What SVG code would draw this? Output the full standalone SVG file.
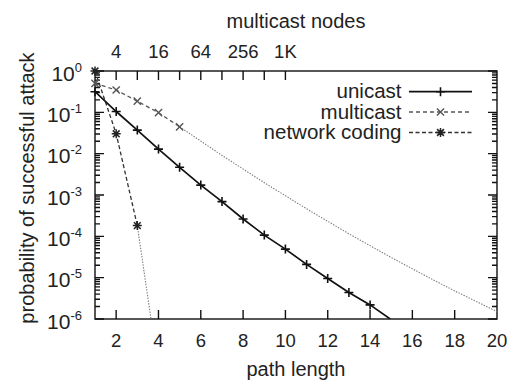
<svg xmlns="http://www.w3.org/2000/svg" xmlns:xlink="http://www.w3.org/1999/xlink" width="512" height="383" viewBox="0 0 512 383">
  <style>
    text { font-family: "Liberation Sans", Arial, sans-serif; fill: #222; }
    .lab { font-size: 20px; }
    .tick { font-size: 18.5px; text-anchor: middle; }
    .ytick { font-size: 21px; text-anchor: end; }
    .ytick tspan { font-size: 13px; }
    .leg { font-size: 20.5px; text-anchor: end; }
    .axis { fill: none; stroke: #111; stroke-width: 1.4; }
    .uni { fill: none; stroke: #111; stroke-width: 1.7; }
    .mc { fill: none; stroke: #555; stroke-width: 1.3; stroke-dasharray: 4 3; }
    .nc { fill: none; stroke: #333; stroke-width: 1.3; stroke-dasharray: 4 2.5; }
    .dot { fill: none; stroke: #7a7a7a; stroke-width: 1.1; stroke-dasharray: 1.4 1.4; }
    .mk-uni { stroke: #111; stroke-width: 1.6; fill: none; }
    .mk-mc { stroke: #555; stroke-width: 1.4; fill: none; }
    .mk-nc { stroke: #222; stroke-width: 1.5; fill: none; }
  </style>
  <defs>
    <path id="plus" d="M-4.5,0H4.5M0,-4.5V4.5"/>
    <path id="cross" d="M-3.6,-3.6L3.6,3.6M-3.6,3.6L3.6,-3.6"/>
    <path id="star" d="M-4.5,0H4.5M0,-4.5V4.5M-3.4,-3.4L3.4,3.4M-3.4,3.4L3.4,-3.4"/>
    <clipPath id="plotArea"><rect x="95" y="71" width="402" height="248"/></clipPath>
  </defs>
  <rect width="512" height="383" fill="#fff"/>

  <!-- axis frame and tick marks -->
  <g id="axes">
    <rect class="axis" x="95" y="71" width="402" height="248"/>
    <!-- left / right decade ticks -->
    <path class="axis" d="M95,71h9M95,112.33h9M95,153.67h9M95,195h9M95,236.33h9M95,277.67h9M95,319h9
      M497,71h-9M497,112.33h-9M497,153.67h-9M497,195h-9M497,236.33h-9M497,277.67h-9M497,319h-9"/>
    <!-- left / right minor ticks -->
    <path class="axis" stroke-width="1.1" d="
      M95,99.89h5M95,92.61h5M95,87.44h5M95,83.44h5M95,80.17h5M95,77.4h5M95,75h5M95,72.89h5
      M95,141.23h5M95,133.95h5M95,128.78h5M95,124.78h5M95,121.51h5M95,118.74h5M95,116.34h5M95,114.23h5
      M95,182.56h5M95,175.28h5M95,170.11h5M95,166.11h5M95,162.84h5M95,160.07h5M95,157.67h5M95,155.56h5
      M95,223.89h5M95,216.61h5M95,211.44h5M95,207.44h5M95,204.17h5M95,201.4h5M95,199h5M95,196.89h5
      M95,265.23h5M95,257.95h5M95,252.78h5M95,248.78h5M95,245.51h5M95,242.74h5M95,240.34h5M95,238.23h5
      M95,306.56h5M95,299.28h5M95,294.11h5M95,290.11h5M95,286.84h5M95,284.07h5M95,281.67h5M95,279.56h5
      M497,99.89h-5M497,92.61h-5M497,87.44h-5M497,83.44h-5M497,80.17h-5M497,77.4h-5M497,75h-5M497,72.89h-5
      M497,141.23h-5M497,133.95h-5M497,128.78h-5M497,124.78h-5M497,121.51h-5M497,118.74h-5M497,116.34h-5M497,114.23h-5
      M497,182.56h-5M497,175.28h-5M497,170.11h-5M497,166.11h-5M497,162.84h-5M497,160.07h-5M497,157.67h-5M497,155.56h-5
      M497,223.89h-5M497,216.61h-5M497,211.44h-5M497,207.44h-5M497,204.17h-5M497,201.4h-5M497,199h-5M497,196.89h-5
      M497,265.23h-5M497,257.95h-5M497,252.78h-5M497,248.78h-5M497,245.51h-5M497,242.74h-5M497,240.34h-5M497,238.23h-5
      M497,306.56h-5M497,299.28h-5M497,294.11h-5M497,290.11h-5M497,286.84h-5M497,284.07h-5M497,281.67h-5M497,279.56h-5"/>
    <!-- bottom ticks (path length) -->
    <path class="axis" d="M116.16,319v-9M158.47,319v-9M200.79,319v-9M243.11,319v-9M285.42,319v-9M327.74,319v-9M370.05,319v-9M412.37,319v-9M454.68,319v-9"/>
    <!-- top ticks (multicast nodes) -->
    <path class="axis" d="M116.16,71v9M137.32,71v9M158.47,71v9M179.63,71v9M200.79,71v9M221.95,71v9M243.11,71v9M264.26,71v9M285.42,71v9"/>
  </g>

  <!-- tick labels -->
  <g id="ytick-labels">
    <text class="ytick" x="82" y="80.5">10<tspan dy="-9">0</tspan></text>
    <text class="ytick" x="82" y="121.8">10<tspan dy="-9">-1</tspan></text>
    <text class="ytick" x="82" y="163.2">10<tspan dy="-9">-2</tspan></text>
    <text class="ytick" x="82" y="204.5">10<tspan dy="-9">-3</tspan></text>
    <text class="ytick" x="82" y="245.8">10<tspan dy="-9">-4</tspan></text>
    <text class="ytick" x="82" y="287.2">10<tspan dy="-9">-5</tspan></text>
    <text class="ytick" x="82" y="328.5">10<tspan dy="-9">-6</tspan></text>
  </g>
  <g id="xtick-labels">
    <text class="tick" x="116.16" y="346.5">2</text>
    <text class="tick" x="158.47" y="346.5">4</text>
    <text class="tick" x="200.79" y="346.5">6</text>
    <text class="tick" x="243.11" y="346.5">8</text>
    <text class="tick" x="285.42" y="346.5">10</text>
    <text class="tick" x="327.74" y="346.5">12</text>
    <text class="tick" x="370.05" y="346.5">14</text>
    <text class="tick" x="412.37" y="346.5">16</text>
    <text class="tick" x="454.68" y="346.5">18</text>
    <text class="tick" x="497" y="346.5">20</text>
  </g>
  <g id="x2tick-labels">
    <text class="tick" x="116.16" y="58.3">4</text>
    <text class="tick" x="158.47" y="58.3">16</text>
    <text class="tick" x="200.79" y="58.3">64</text>
    <text class="tick" x="243.11" y="58.3">256</text>
    <text class="tick" x="285.42" y="58.3">1K</text>
  </g>

  <!-- axis titles -->
  <g id="titles">
    <text class="lab" x="296" y="28" text-anchor="middle">multicast nodes</text>
    <text class="lab" x="296" y="376" text-anchor="middle">path length</text>
    <text class="lab" transform="translate(34,188) rotate(-90)" text-anchor="middle" font-size="19.3px">probability of successful attack</text>
  </g>

  <!-- data curves -->
  <g id="connectors" clip-path="url(#plotArea)">
    <path class="dot" d="M179.6,126.8L222,155.4L264.3,182.7L306.6,208.8L348.9,233.8L391.2,257.5L433.5,280L454.7,290.9L497,311.6"/>
    <path class="dot" d="M137.3,225.6L151,319"/>
    <path class="mc" d="M95,83.4L116.2,90L137.3,101.2L158.5,112.7L179.6,126.8"/>
    <path class="nc" d="M95,71L116.2,133.8L137.3,225.6"/>
    <path class="uni" d="M95,91.7L116.2,111.5L137.3,130.1L158.5,149.1L179.6,167.3L200.8,185.1L222,201.6L243.1,219L264.3,235.1L285.4,249.1L306.6,264.4L327.7,278.5L348.9,292.5L370.1,304.9L390.2,319"/>
  </g>

  <g id="unicast-points" class="mk-uni">
    <use href="#plus" x="95" y="91.7"/>
    <use href="#plus" x="116.2" y="111.5"/>
    <use href="#plus" x="137.3" y="130.1"/>
    <use href="#plus" x="158.5" y="149.1"/>
    <use href="#plus" x="179.6" y="167.3"/>
    <use href="#plus" x="200.8" y="185.1"/>
    <use href="#plus" x="222" y="201.6"/>
    <use href="#plus" x="243.1" y="219"/>
    <use href="#plus" x="264.3" y="235.1"/>
    <use href="#plus" x="285.4" y="249.1"/>
    <use href="#plus" x="306.6" y="264.4"/>
    <use href="#plus" x="327.7" y="278.5"/>
    <use href="#plus" x="348.9" y="292.5"/>
    <use href="#plus" x="370.1" y="304.9"/>
  </g>
  <g id="multicast-points" class="mk-mc">
    <use href="#cross" x="95" y="83.4"/>
    <use href="#cross" x="116.2" y="90"/>
    <use href="#cross" x="137.3" y="101.2"/>
    <use href="#cross" x="158.5" y="112.7"/>
    <use href="#cross" x="179.6" y="126.8"/>
  </g>
  <g id="network-coding-points" class="mk-nc">
    <use href="#star" x="95" y="71"/>
    <use href="#star" x="116.2" y="133.8"/>
    <use href="#star" x="137.3" y="225.6"/>
  </g>

  <!-- key -->
  <g id="legend-unicast">
    <text class="leg" x="401.5" y="98.3">unicast</text>
    <path class="uni" d="M409,91.7H472"/>
    <use class="mk-uni" href="#plus" x="440.5" y="91.7"/>
  </g>
  <g id="legend-multicast">
    <text class="leg" x="401.5" y="118.5">multicast</text>
    <path class="mc" d="M409,112H472"/>
    <use class="mk-mc" href="#cross" x="440.5" y="112"/>
  </g>
  <g id="legend-network-coding">
    <text class="leg" x="401.5" y="139">network coding</text>
    <path class="nc" d="M409,132.5H472"/>
    <use class="mk-nc" href="#star" x="440.5" y="132.5"/>
  </g>
</svg>
